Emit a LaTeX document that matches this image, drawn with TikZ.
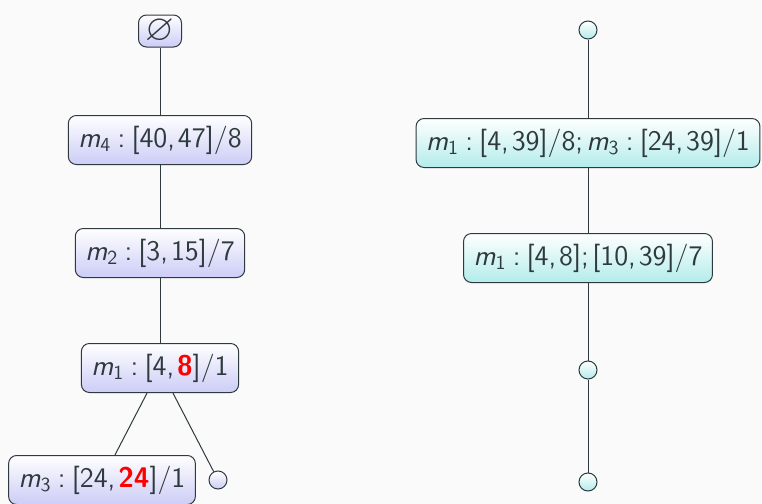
\documentclass[tikz,border=0pt]{standalone}
\usepackage{amssymb}
\usepackage{graphicx}
\definecolor{bgc}{HTML}{FAFAFA}
\definecolor{edgec}{HTML}{2E3A3E}
\definecolor{lav}{HTML}{CCCCF7}
\definecolor{aqua}{HTML}{B2ECEA}
\newcommand{\mvar}[1]{\textit{m}\textsubscript{#1}}
\newcommand{\rl}{\hspace{0.22em}:\hspace{0.22em}}
\newcommand{\cm}{,\hspace{0.1em}}
\newcommand{\hl}[1]{\textbf{\color{red}#1}}
\tikzset{
  box/.style={draw=edgec, line width=0.5pt, rounded corners=4pt,
    inner xsep=5pt, inner ysep=2pt, minimum height=24.5pt,
    font=\sffamily\fontsize{14.2}{16}\selectfont, text=edgec},
  lbox/.style={box, top color=white, bottom color=lav},
  rbox/.style={box, top color=white, bottom color=aqua},
  dot/.style={circle, draw=edgec, line width=0.5pt, minimum size=9pt, inner sep=0pt},
  ldot/.style={dot, top color=white, bottom color=lav},
  rdot/.style={dot, top color=white, bottom color=aqua},
  link/.style={draw=edgec, line width=0.5pt}
}
\begin{document}
\begin{tikzpicture}[x=0.5pt, y=-0.5pt]
  \fill[bgc] (0,0) rectangle (762,504);
  \useasboundingbox (0,0) rectangle (762,504);
  % left tree
  \node[lbox, minimum width=21.5pt, minimum height=16pt, inner sep=0pt] (e) at (160,31) {\scalebox{1.3}{$\varnothing$}};
  \node[lbox] (a) at (160,140) {\mvar{4}\rl[40\cm47]/8};
  \node[lbox] (b) at (160,253) {\mvar{2}\rl[3\cm15]/7};
  \node[lbox] (c) at (160,368) {\mvar{1}\rl[4\cm\hl{8}]/1};
  \node[lbox] (d) at (102,480) {\mvar{3}\rl[24\cm\hl{24}]/1};
  \node[ldot] (f) at (218,480) {};
  \draw[link] (e) -- (a);
  \draw[link] (a) -- (b);
  \draw[link] (b) -- (c);
  \draw[link] (c) -- (d);
  \draw[link] (c) -- (f);
  % right chain
  \node[rdot] (p) at (588,30) {};
  \node[rbox] (q) at (588,143) {\mvar{1}\rl[4\cm39]/8;\hspace{0.12em}\mvar{3}\rl[24\cm39]/1};
  \node[rbox] (r) at (588,258) {\mvar{1}\rl[4\cm8];\hspace{0.12em}[10\cm39]/7};
  \node[rdot] (s) at (588,370) {};
  \node[rdot] (t) at (588,482) {};
  \draw[link] (p) -- (q);
  \draw[link] (q) -- (r);
  \draw[link] (r) -- (s);
  \draw[link] (s) -- (t);
\end{tikzpicture}
\end{document}
